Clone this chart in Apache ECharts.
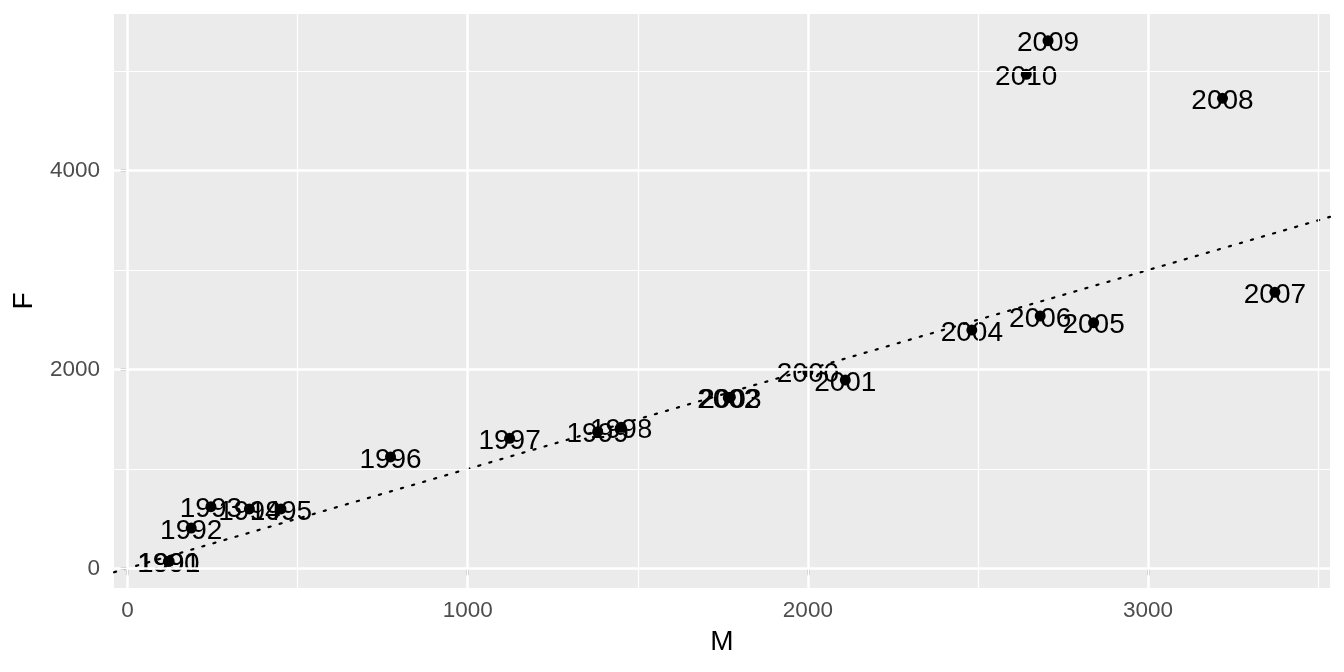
<!DOCTYPE html>
<html>
<head>
<meta charset="utf-8">
<script src="https://cdn.jsdelivr.net/npm/echarts@6/dist/echarts.min.js"></script>
<style>html,body{margin:0;padding:0;background:#fff;}#c{width:1344px;height:672px;}</style>
</head>
<body>
<div id="c"></div>
<script>
const years = ['1991','1990','1992','1993','1994','1995','1996','1997','1998','1999','2000','2001','2002','2003','2004','2005','2006','2007','2008','2009','2010'];
const valuesM = [122,120,187,245,358,451,773,1123,1451,1382,2000,2110,1766,1772,2482,2840,2683,3373,3219,2706,2642];
const valuesF = [71,70,405,620,597,597,1120,1308,1418,1374,1978,1894,1716,1722,2397,2471,2538,2777,4728,5308,4970];
const xMajor = [0,1000,2000,3000];
const xMinor = [500,1500,2500,3500];
const yMajor = [0,2000,4000];
const yMinor = [1000,3000,5000];
const xRange = [-40,3535];
const yRange = [-198,5576];

const FONT = '"Liberation Sans", Arial, Helvetica, sans-serif';
const pts = years.map((y,i)=>[valuesM[i], valuesF[i], y]);
const refLine = xRange.map(v=>[v,v]);

const gridLines = [];
xMinor.forEach(v=>gridLines.push({xAxis:v, lineStyle:{color:'#fff', width:1.2, type:'solid'}}));
yMinor.forEach(v=>gridLines.push({yAxis:v, lineStyle:{color:'#fff', width:1.2, type:'solid'}}));
xMajor.forEach(v=>gridLines.push({xAxis:v, lineStyle:{color:'#fff', width:2.5, type:'solid'}}));
yMajor.forEach(v=>gridLines.push({yAxis:v, lineStyle:{color:'#fff', width:2.5, type:'solid'}}));

const chart = echarts.init(document.getElementById('c'), null, {renderer:'canvas'});
chart.setOption({
  animation:false,
  backgroundColor:'#fff',
  grid:{left:114, right:14, top:14, bottom:84, show:true, backgroundColor:'#EBEBEB', borderWidth:0, containLabel:false, outerBoundsMode:'none'},
  xAxis:{
    type:'value', min:xRange[0], max:xRange[1],
    name:'M', nameLocation:'middle', nameGap:40,
    nameTextStyle:{fontFamily:FONT, fontSize:28, color:'#000'},
    axisLine:{show:false},
    axisTick:{show:true, length:7, lineStyle:{color:'#333', width:2.5}, customValues:xMajor},
    axisLabel:{fontFamily:FONT, fontSize:22.5, color:'#4D4D4D', margin:11, customValues:xMajor, formatter:v=>String(v)},
    splitLine:{show:false}
  },
  yAxis:{
    type:'value', min:yRange[0], max:yRange[1],
    name:'F', nameLocation:'middle', nameGap:76, nameRotate:90,
    nameTextStyle:{fontFamily:FONT, fontSize:28, color:'#000'},
    axisLine:{show:false},
    axisTick:{show:true, length:7, lineStyle:{color:'#333', width:2.5}, customValues:yMajor},
    axisLabel:{fontFamily:FONT, fontSize:22.5, color:'#4D4D4D', margin:14, customValues:yMajor, formatter:v=>String(v)},
    splitLine:{show:false}
  },
  series:[
    {
      type:'line', data:[], z:1, silent:true,
      markLine:{silent:true, symbol:'none', label:{show:false}, animation:false, data:gridLines}
    },
    {
      type:'line', data:refLine, z:3, silent:true, showSymbol:false, symbol:'none',
      lineStyle:{color:'#000', width:2.2, type:[2.2,9.3], cap:'round'}
    },
    {
      type:'scatter', data:pts, z:4, symbolSize:11,
      itemStyle:{color:'#000', opacity:1},
      label:{show:true, position:'inside', formatter:p=>p.value[2], fontFamily:FONT, fontSize:28, color:'#000', textBorderWidth:0, opacity:1},
      emphasis:{disabled:true},
      labelLayout:{hideOverlap:false, dy:3}
    }
  ]
});
</script>
</body>
</html>
